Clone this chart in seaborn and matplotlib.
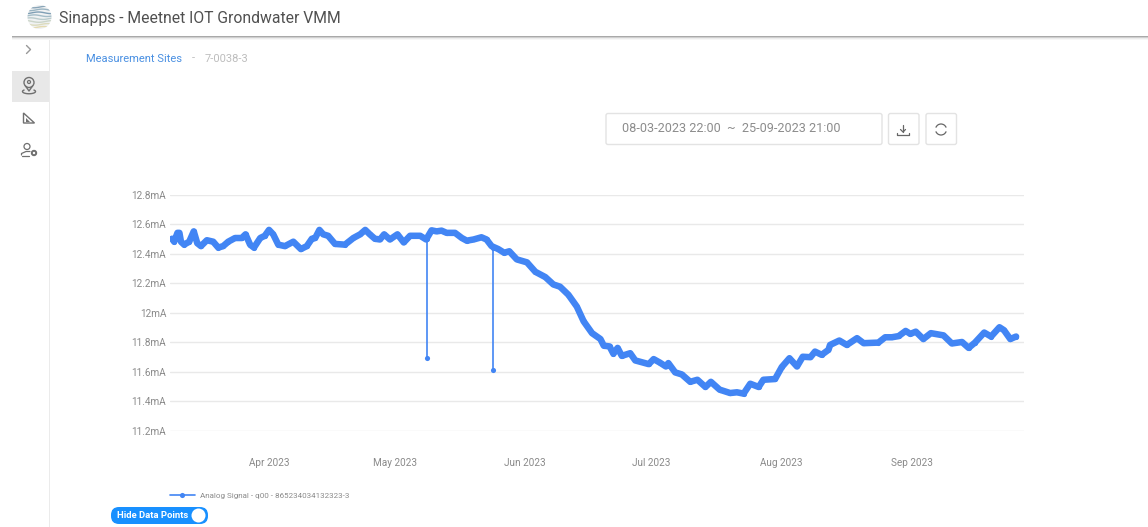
#%% import libraries
import numpy as np
import pandas as pd
import matplotlib
matplotlib.use("Agg")
import matplotlib.pyplot as plt
from matplotlib.patches import FancyBboxPatch, Circle, Rectangle, Arc, Polygon
import seaborn as sns

# values (month-day hour, mA)
signal_times = [
    "03-08 22", "03-09 10", "03-10 05", "03-10 16", "03-11 01", "03-11 19", "03-13 00", "03-14 02",
    "03-14 22", "03-15 19", "03-17 05", "03-18 17", "03-19 22", "03-21 02", "03-22 07", "03-23 22",
    "03-25 12", "03-26 10", "03-27 12", "03-28 10", "03-29 22", "03-31 00", "04-01 00", "04-02 00",
    "04-03 05", "04-04 19", "04-06 19", "04-08 14", "04-10 00", "04-11 05", "04-12 00", "04-13 00",
    "04-13 22", "04-15 02", "04-16 17", "04-19 02", "04-21 02", "04-22 17", "04-23 22", "04-25 00",
    "04-26 05", "04-27 10", "04-28 10", "04-29 19", "05-01 14", "05-03 02", "05-04 14", "05-07 00",
    "05-08 10", "05-09 17", "05-10 22", "05-12 02", "05-13 07", "05-15 07", "05-16 22", "05-18 02",
    "05-19 17", "05-21 14", "05-22 19", "05-24 00", "05-25 14", "05-27 00", "05-28 05", "05-30 00",
    "06-01 10", "06-03 10", "06-05 19", "06-07 17", "06-09 07", "06-11 07", "06-13 07", "06-14 22",
    "06-16 22", "06-18 22", "06-19 17", "06-21 02", "06-22 00", "06-23 00", "06-24 00", "06-26 00",
    "06-27 05", "06-30 10", "07-01 14", "07-03 02", "07-04 12", "07-05 02", "07-06 17", "07-08 07",
    "07-10 07", "07-12 00", "07-13 22", "07-15 05", "07-17 07", "07-19 19", "07-21 10", "07-23 00",
    "07-24 14", "07-26 14", "07-27 17", "07-30 12", "08-01 02", "08-02 22", "08-04 17", "08-06 02",
    "08-07 22", "08-09 00", "08-10 14", "08-12 05", "08-12 14", "08-14 19", "08-16 14", "08-19 00",
    "08-20 14", "08-24 02", "08-25 17", "08-27 07", "08-28 22", "08-30 14", "08-31 17", "09-02 00",
    "09-03 19", "09-05 14", "09-08 14", "09-10 14", "09-13 00", "09-14 14", "09-16 02", "09-18 07",
    "09-19 22", "09-21 22", "09-23 00", "09-24 12", "09-25 21",
]
signal_values = [
    12.50, 12.48, 12.54, 12.54, 12.48, 12.46, 12.48, 12.55,
    12.47, 12.45, 12.49, 12.48, 12.44, 12.45, 12.48, 12.505,
    12.505, 12.53, 12.46, 12.44, 12.505, 12.52, 12.56, 12.53,
    12.46, 12.45, 12.48, 12.43, 12.45, 12.50, 12.505, 12.56,
    12.53, 12.52, 12.465, 12.46, 12.505, 12.53, 12.56, 12.53,
    12.50, 12.495, 12.53, 12.495, 12.53, 12.475, 12.52, 12.52,
    12.495, 12.557, 12.55, 12.555, 12.54, 12.54, 12.505, 12.487,
    12.495, 12.51, 12.495, 12.45, 12.43, 12.405, 12.415, 12.36,
    12.34, 12.276, 12.24, 12.19, 12.175, 12.12, 12.04, 11.94,
    11.86, 11.82, 11.775, 11.77, 11.72, 11.76, 11.706, 11.724,
    11.675, 11.65, 11.684, 11.66, 11.634, 11.657, 11.594, 11.58,
    11.53, 11.544, 11.495, 11.53, 11.477, 11.454, 11.459, 11.45,
    11.517, 11.495, 11.544, 11.549, 11.63, 11.69, 11.634, 11.70,
    11.697, 11.735, 11.713, 11.747, 11.78, 11.81, 11.78, 11.826,
    11.792, 11.796, 11.832, 11.832, 11.84, 11.875, 11.855, 11.87,
    11.82, 11.86, 11.845, 11.79, 11.80, 11.76, 11.796, 11.864,
    11.837, 11.90, 11.88, 11.82, 11.837,
]
spike_times = ["05-08 12", "05-24 10"]
spike_tops = [12.495, 12.44]
spike_values = [11.69, 11.61]

y_ticks = [11.2, 11.4, 11.6, 11.8, 12.0, 12.2, 12.4, 12.6, 12.8]
y_labels = ["11.2mA", "11.4mA", "11.6mA", "11.8mA", "12mA", "12.2mA", "12.4mA", "12.6mA", "12.8mA"]
month_ticks = ["2023-04-01", "2023-05-01", "2023-06-01", "2023-07-01", "2023-08-01", "2023-09-01"]
month_labels = ["Apr 2023", "May 2023", "Jun 2023", "Jul 2023", "Aug 2023", "Sep 2023"]
series_name = "Analog Signal - q00 - 865234034132323-3"

BLUE = "#4285f4"
W, H = 1148, 527

sns.set_theme(style="white")
plt.rcParams["font.family"] = ["Roboto", "DejaVu Sans"]

signal = pd.DataFrame({"time": pd.to_datetime(["2023-" + t for t in signal_times], format="%Y-%m-%d %H"),
                       "value": signal_values})
spike_dates = pd.to_datetime(["2023-" + t for t in spike_times], format="%Y-%m-%d %H")

fig = plt.figure(figsize=(W / 100, H / 100), dpi=100, facecolor="white")

#%% page around the chart, in pixel coordinates
ui = fig.add_axes([0, 0, 1, 1], zorder=0)
ui.set_xlim(0, W)
ui.set_ylim(H, 0)
ui.axis("off")


def box(x0, y0, x1, y1, radius=2, fc="white", ec="#e3e3e3", lw=1, z=1):
    ui.add_patch(FancyBboxPatch((x0 + radius, y0 + radius), x1 - x0 - 2 * radius, y1 - y0 - 2 * radius,
                                boxstyle=f"round,pad={radius}", fc=fc, ec=ec, lw=lw, zorder=z))


# header bar
for i, c in enumerate(["#a9a9a9", "#cfcfcf", "#ececec", "#f7f7f7"]):
    ui.add_patch(Rectangle((12, 36 + i), W - 12, 1, fc=c, ec="none", zorder=3))
ui.add_patch(Rectangle((49, 37), 1, H - 37, fc="#ebebeb", ec="none"))
ui.add_patch(Rectangle((12, 71), 37, 31, fc="#e8e8e8", ec="none"))

# logo
logo = Circle((39.5, 17), 12, fc="#f0f2f3", ec="none", transform=ui.transData)
ui.add_patch(logo)
stripe_colors = ["#8aa5b8", "#9ab4c2", "#7f9fb5", "#a4bdc8", "#bacccd", "#cbd5c8", "#dcdbbd", "#e4dab0"]
for i, c in enumerate(stripe_colors):
    xs = np.linspace(27.5, 51.5, 30)
    ys = 7 + i * 2.9 + 0.8 * np.sin((xs - 27.5) / 4 + i)
    stripe, = ui.plot(xs, ys, color=c, lw=1.0, zorder=2)
    stripe.set_clip_path(logo)

ui.text(59, 18, "Sinapps - Meetnet IOT Grondwater VMM", fontsize=11.3, color="#505050", va="center", ha="left")
ui.text(86.5, 58.5, "Measurement Sites", fontsize=8.05, color="#4a90e2", va="center", ha="left")
ui.text(192, 58.5, "-", fontsize=8.05, color="#bdbdbd", va="center", ha="left")
ui.text(205, 58.5, "7-0038-3", fontsize=8.05, color="#bdbdbd", va="center", ha="left")

# sidebar icons
ICON = "#707070"
ui.plot([26.5, 30.5, 26.5], [45.5, 49.5, 53.5], color="#999999", lw=1.0)
ui.add_patch(Circle((29, 82.5), 5, fc="none", ec=ICON, lw=1.0))
ui.add_patch(Circle((29, 82), 1.5, fc="none", ec=ICON, lw=0.9))
ui.plot([25.5, 29, 32.5], [86, 91, 86], color=ICON, lw=1.0)
ui.add_patch(Arc((29, 91.5), 13, 4.5, theta1=-20, theta2=200, ec=ICON, lw=1.0))
ui.add_patch(Polygon([(23.5, 113), (23.5, 123), (34.5, 123)], closed=True, fc="none", ec=ICON, lw=1.0))
ui.add_patch(Polygon([(25.5, 118), (25.5, 121.5), (29.5, 121.5)], closed=True, fc=ICON, ec="none"))
ui.add_patch(Circle((27, 146.5), 3, fc="none", ec=ICON, lw=0.9))
ui.plot([21.5, 21.5, 26, 30], [155, 153.5, 151.5, 151.5], color=ICON, lw=0.9)
ui.plot([21.5, 29], [155.5, 155.5], color=ICON, lw=0.9)
ui.add_patch(Circle((34, 153), 2.2, fc="none", ec=ICON, lw=1.4))

# date range and buttons
box(606, 113.5, 882, 144.5)
box(888.5, 113.5, 919, 144.5)
box(926, 113.5, 956.5, 144.5)
ui.text(622.5, 129, "08-03-2023 22:00  ~  25-09-2023 21:00", fontsize=9.05, color="#8c8c8c", va="center", ha="left")
ui.plot([903, 903], [124.5, 131.5], color="#666666", lw=0.9)
ui.plot([900.5, 903, 905.5], [129.5, 132, 129.5], color="#666666", lw=0.9)
ui.plot([897, 897, 909, 909], [132.5, 135, 135, 132.5], color="#666666", lw=0.9)
ui.add_patch(Arc((941, 129.5), 11, 11, theta1=20, theta2=160, ec="#666666", lw=0.9))
ui.add_patch(Arc((941, 129.5), 11, 11, theta1=200, theta2=340, ec="#666666", lw=0.9))

# toggle under the legend
box(111, 507, 208, 524, radius=8, fc="#1890ff", ec="none")
ui.add_patch(Circle((198.5, 515.5), 7, fc="white", ec="none", zorder=2))
ui.text(117, 515, "Hide Data Points", fontsize=6.8, color="white", fontweight="bold", va="center", ha="left", zorder=2)

#%% chart
left, right, top, bottom = 170, 1024, 194.5, 430.5
ax = fig.add_axes([left / W, 1 - bottom / H, (right - left) / W, (bottom - top) / H], zorder=1)
ax.patch.set_alpha(0)

# thick band stands for the densely packed points
sns.lineplot(data=signal, x="time", y="value", ax=ax, color=BLUE, lw=4.7, estimator=None,
             errorbar=None, solid_joinstyle="round", solid_capstyle="round", legend=False, zorder=3)
sns.lineplot(data=signal, x="time", y="value", ax=ax, color=BLUE, lw=1.2, marker="o", markersize=3.7,
             markeredgewidth=0, estimator=None, errorbar=None, label=series_name, zorder=4)

# spikes drop straight down from the band
for when, start, low in zip(spike_dates, spike_tops, spike_values):
    stem = pd.DataFrame({"time": [when, when], "value": [start, low]})
    sns.lineplot(data=stem, x="time", y="value", ax=ax, color=BLUE, lw=1.2, marker="o", markersize=3.7,
                 markeredgewidth=0, estimator=None, errorbar=None, sort=False, legend=False, zorder=2)

apr1 = pd.Timestamp("2023-04-01")
px_per_day = 4.2
ax.set_xlim(apr1 + pd.Timedelta(days=(left - 269) / px_per_day), apr1 + pd.Timedelta(days=(right - 269) / px_per_day))
ax.set_ylim(11.2, 12.8)
ax.set_yticks(y_ticks)
ax.set_yticklabels(y_labels)
ax.set_xticks(pd.to_datetime(month_ticks))
ax.set_xticklabels(month_labels)
ax.tick_params(axis="both", length=0, labelsize=7.2, labelcolor="#8a8a8a")
ax.tick_params(axis="y", pad=2.8)
ax.tick_params(axis="x", pad=19.6)
ax.set_xlabel("")
ax.set_ylabel("")
ax.grid(axis="y", color="#e9e9e9", lw=1)
ax.set_axisbelow(True)
sns.despine(ax=ax, left=True, bottom=True)

leg = ax.legend(loc="center left", bbox_to_anchor=(170 / W, 1 - 496 / H), bbox_transform=fig.transFigure,
                frameon=False, fontsize=5.75, labelcolor="#8a8a8a", handlelength=3.1, handletextpad=0.6,
                borderaxespad=0, borderpad=0)

fig.savefig("out.png", dpi=100)
